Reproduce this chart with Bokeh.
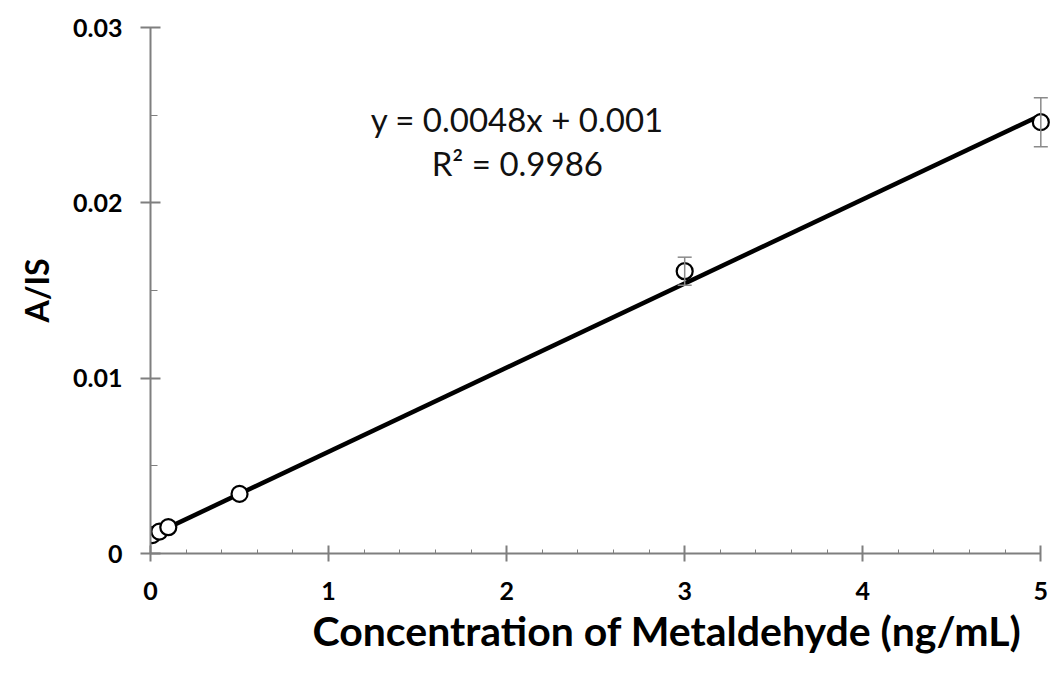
from bokeh.plotting import figure
from bokeh.models import (ColumnDataSource, Whisker, TeeHead, Label, SingleIntervalTicker,
                          Range1d, NumeralTickFormatter, Title)
from bokeh.embed import file_html
from bokeh.resources import INLINE

# data
conc = [0.01, 0.05, 0.1, 0.5, 3, 5]
ratio = [0.00105, 0.00125, 0.0015, 0.0034, 0.0161, 0.0246]
err = [0.0, 0.0, 0.0, 0.0, 0.0008, 0.0014]
slope = 0.0048
intercept = 0.001
eq_text = "y = 0.0048x + 0.001"
r2_text = "R² = 0.9986"
x_label = "Concentration of Metaldehyde (ng/mL)"
y_label = "A/IS"

fit_x = [conc[0], conc[-1]]
fit_y = [slope * v + intercept for v in fit_x]

src = ColumnDataSource(dict(x=conc, y=ratio))
err_src = ColumnDataSource(dict(x=[c for c, e in zip(conc, err) if e > 0],
                                lo=[a - e for a, e in zip(ratio, err) if e > 0],
                                hi=[a + e for a, e in zip(ratio, err) if e > 0]))

p = figure(width=1052, height=677, output_backend="svg", toolbar_location=None,
           x_range=Range1d(0, 5.06), y_range=Range1d(0, 0.03),
           min_border_left=150, min_border_right=1, min_border_top=27, min_border_bottom=124)
p.outline_line_color = None
p.grid.visible = False
p.background_fill_color = "white"

axis_col = "#7f7f7f"
tick_font = "Lato"

xa = p.xaxis[0]
xa.ticker = SingleIntervalTicker(interval=1, num_minor_ticks=5)
xa.bounds = (0, 5)
xa.axis_line_color = axis_col
xa.axis_line_width = 2
xa.major_tick_line_color = axis_col
xa.major_tick_line_width = 2
xa.minor_tick_line_color = axis_col
xa.major_tick_in = 8
xa.major_tick_out = 8
xa.minor_tick_in = 4
xa.minor_tick_out = 0
xa.major_label_text_font = tick_font
xa.major_label_text_font_style = "bold"
xa.major_label_text_font_size = "25px"
xa.major_label_text_color = "black"
xa.major_label_standoff = 20

ya = p.yaxis[0]
ya.ticker = SingleIntervalTicker(interval=0.01, num_minor_ticks=2)
ya.formatter = NumeralTickFormatter(format="0.[00]")
ya.axis_line_color = axis_col
ya.axis_line_width = 2
ya.major_tick_line_color = axis_col
ya.major_tick_line_width = 2
ya.minor_tick_line_color = axis_col
ya.major_tick_in = 10
ya.major_tick_out = 10
ya.minor_tick_in = 7
ya.minor_tick_out = 0
ya.major_label_text_font = tick_font
ya.major_label_text_font_style = "bold"
ya.major_label_text_font_size = "25px"
ya.major_label_text_color = "black"
ya.major_label_standoff = 18
ya.axis_label = y_label
ya.axis_label_text_font = tick_font
ya.axis_label_text_font_style = "bold"
ya.axis_label_text_font_size = "32px"
ya.axis_label_text_color = "black"
ya.axis_label_standoff = 14

# fit line
p.line(fit_x, fit_y, line_color="black", line_width=4.5)

# error bars
wh = Whisker(source=err_src, base="x", lower="lo", upper="hi", line_color="#8a8a8a", line_width=1.5,
             upper_head=TeeHead(size=14, line_color="#8a8a8a", line_width=1.5),
             lower_head=TeeHead(size=14, line_color="#8a8a8a", line_width=1.5),
             level="glyph")
p.add_layout(wh)

# points
p.scatter("x", "y", source=src, size=16, fill_color="white", line_color="black", line_width=2.2)

# equation text
p.add_layout(Label(x=2.06, y=0.02479, text=eq_text, text_align="center", text_baseline="middle",
                   text_font="Lato", text_font_size="33px", text_color="#111111"))
p.add_layout(Label(x=2.06, y=0.02228, text=r2_text, text_align="center", text_baseline="middle",
                   text_font="Lato", text_font_size="33px", text_color="#111111"))

# x axis label as a title below the axis
p.add_layout(Title(text=x_label, align="left", offset=162, standoff=2,
                   text_font="Lato", text_font_style="bold", text_font_size="41px",
                   text_color="black"), "below")

open("out.html", "w").write(file_html(p, INLINE))
